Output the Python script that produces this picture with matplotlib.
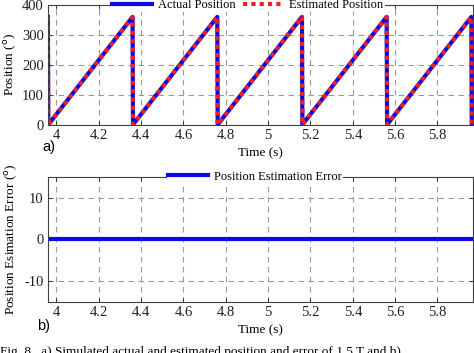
import numpy as np
import matplotlib.pyplot as plt

# sawtooth vertices (time in s, position in deg)
t_pos = [3.96, 3.962, 4.36, 4.362, 4.76, 4.762, 5.16, 5.162, 5.56, 5.562, 5.96, 5.962]
actual_pos = [360, 0, 360, 0, 360, 0, 360, 0, 360, 0, 360, 0]
estimated_pos = [360, 0, 360, 0, 360, 0, 360, 0, 360, 0, 360, 0]

t_err = [3.96, 5.97]
pos_err = [0, 0]

xticks = [4, 4.2, 4.4, 4.6, 4.8, 5, 5.2, 5.4, 5.6, 5.8]
xticklabels = ["4", "4.2", "4.4", "4.6", "4.8", "5", "5.2", "5.4", "5.6", "5.8"]

plt.rcParams['font.family'] = ['Liberation Serif', 'DejaVu Serif']
plt.rcParams['font.size'] = 9
plt.rcParams['axes.unicode_minus'] = False
plt.rcParams['xtick.direction'] = 'in'
plt.rcParams['ytick.direction'] = 'in'
plt.rcParams['xtick.top'] = True
plt.rcParams['ytick.right'] = True
plt.rcParams['xtick.labelsize'] = 10.5
plt.rcParams['ytick.labelsize'] = 10.5

fig = plt.figure(figsize=(4.74, 3.53), dpi=100)
ax1 = fig.add_axes([0.101, 0.647, 0.897, 0.339])
ax2 = fig.add_axes([0.101, 0.145, 0.897, 0.354])

grid_kw = dict(color='#9a9a9a', linestyle=(0, (5, 4)), linewidth=0.8)

ax1.plot(t_pos, actual_pos, color='#0a0ae6', lw=3, label='Actual Position')
ax1.plot(t_pos, estimated_pos, color='#f02020', lw=3, linestyle=(0, (1, 1)),
         label='Estimated Position')
ax1.set_xlim(3.96, 5.968)
ax1.set_ylim(0, 400)
ax1.set_yticks([0, 100, 200, 300, 400])
ax1.set_xticks(xticks)
ax1.set_xticklabels(xticklabels)
ax1.grid(True, **grid_kw)
ax1.set_ylabel('Position ($^{\\rm o}$)', labelpad=2, fontsize=9.5)
ax1.set_xlabel('Time (s)', labelpad=4, fontsize=9.5)
leg1 = ax1.legend(loc='center', bbox_to_anchor=(0.47, 1.0), ncol=2, frameon=True,
                  handlelength=3.2, columnspacing=0.6, handletextpad=0.5,
                  borderpad=0.1, fontsize=9)
leg1.get_frame().set_edgecolor('none')
leg1.get_frame().set_facecolor('white')
leg1.get_frame().set_alpha(1)

ax2.plot(t_err, pos_err, color='#0a0ae6', lw=3, label='Position Estimation Error')
ax2.set_xlim(3.96, 5.968)
ax2.set_ylim(-15, 15)
ax2.set_yticks([-10, 0, 10])
ax2.set_xticks(xticks)
ax2.set_xticklabels(xticklabels)
ax2.grid(True, **grid_kw)
ax2.set_ylabel('Position Esimation Error ($^{\\rm o}$)', labelpad=3, fontsize=9.5)
ax2.set_xlabel('Time (s)', labelpad=4, fontsize=9.5)
leg2 = ax2.legend(loc='center', bbox_to_anchor=(0.487, 1.0), frameon=True,
                  handlelength=3.2, handletextpad=0.5, borderpad=0.1, fontsize=9)
leg2.get_frame().set_edgecolor('none')
leg2.get_frame().set_facecolor('white')
leg2.get_frame().set_alpha(1)

for ax in (ax1, ax2):
    for s in ax.spines.values():
        s.set_color('#404040')
        s.set_linewidth(0.8)
    ax.tick_params(length=3, width=0.6, pad=3, colors='#202020')

fig.text(0.089, 0.573, 'a)', family='Liberation Sans', fontsize=10.5)
fig.text(0.078, 0.066, 'b)', family='Liberation Sans', fontsize=10.5)
fig.text(0.0, 0.003, 'Fig. 8.  a) Simulated actual and estimated position and error of 1.5 T and b) ...',
         fontsize=9.5, va='center', ha='left')

fig.savefig('out.png', dpi=100)
